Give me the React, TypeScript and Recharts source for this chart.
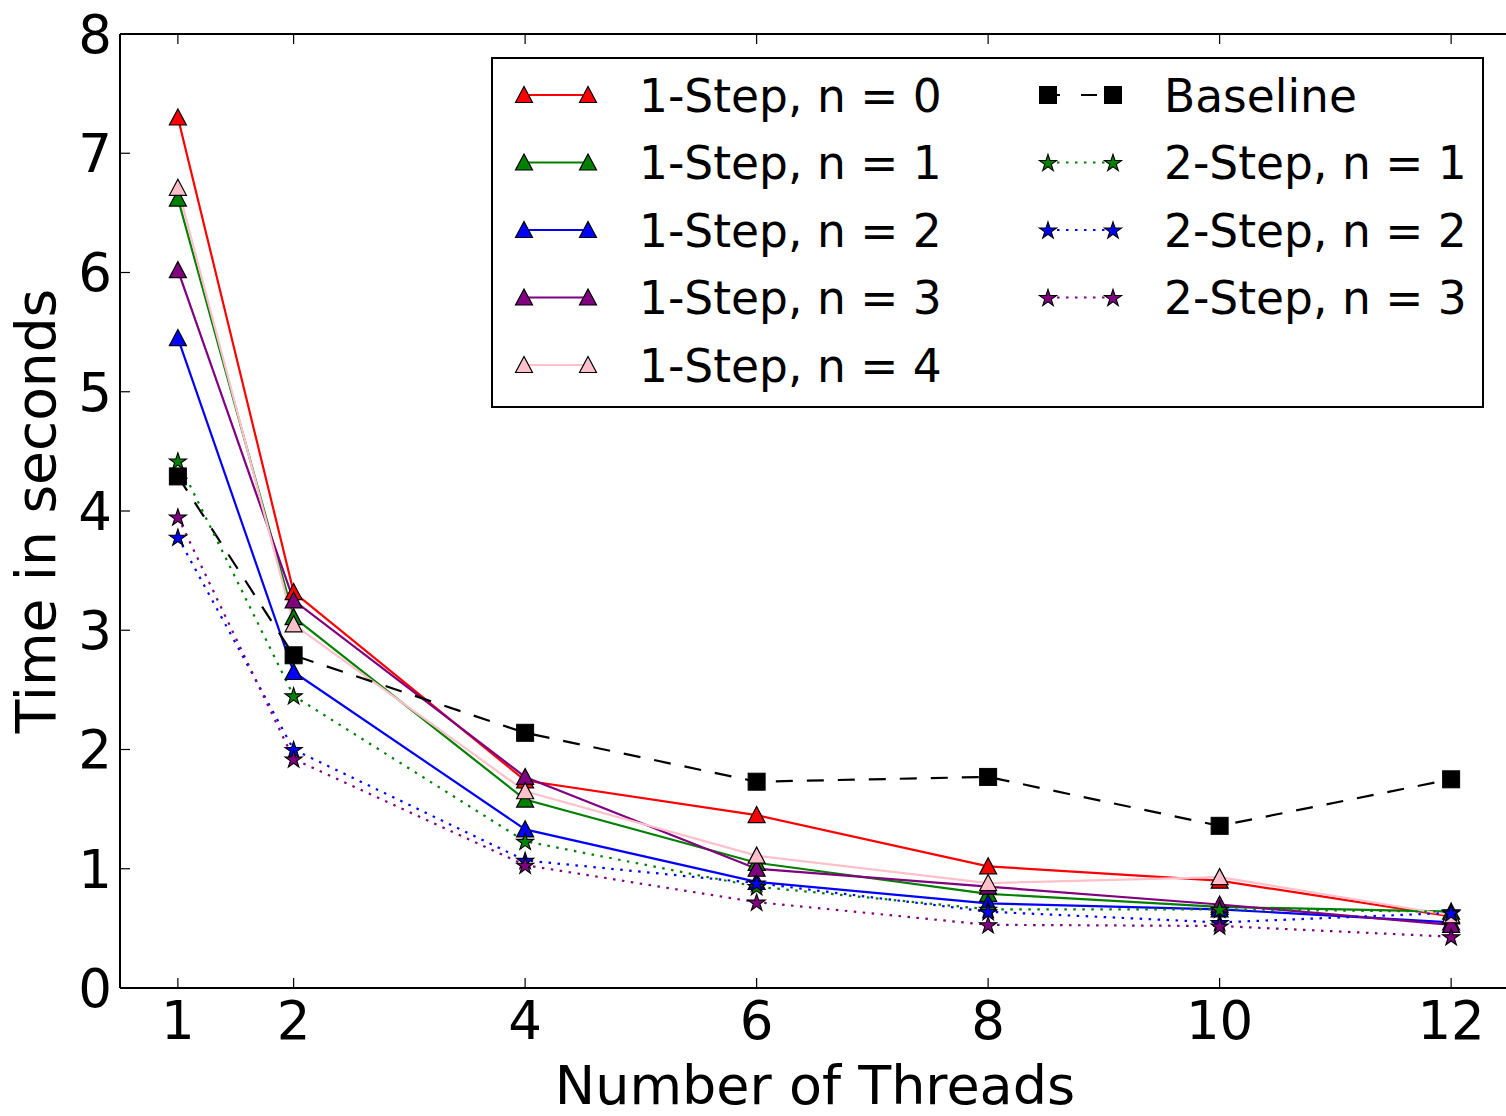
import { LineChart, Line, XAxis, YAxis, Legend } from "recharts";

// thread counts on the x axis
const threads = [1, 2, 4, 6, 8, 10, 12];

// 1-step timings (seconds)
const oneStepN0 = [7.3, 3.32, 1.74, 1.45, 1.02, 0.9, 0.6];
const oneStepN1 = [6.62, 3.11, 1.58, 1.05, 0.79, 0.68, 0.64];
const oneStepN2 = [5.45, 2.65, 1.33, 0.89, 0.71, 0.66, 0.55];
const oneStepN3 = [6.02, 3.25, 1.77, 1.0, 0.85, 0.7, 0.53];
const oneStepN4 = [6.71, 3.05, 1.65, 1.11, 0.88, 0.93, 0.61];

// baseline + 2-step timings
const baseline = [4.29, 2.79, 2.14, 1.73, 1.77, 1.36, 1.75];
const twoStepN1 = [4.42, 2.45, 1.23, 0.85, 0.66, 0.66, 0.64];
const twoStepN2 = [3.78, 2.0, 1.07, 0.88, 0.64, 0.55, 0.63];
const twoStepN3 = [3.95, 1.92, 1.03, 0.72, 0.53, 0.52, 0.43];

const xTicks = [1, 2, 4, 6, 8, 10, 12];
const yTicks = [0, 1, 2, 3, 4, 5, 6, 7, 8];

type Shape = "tri" | "square" | "star";

interface SeriesDef {
  key: string;
  name: string;
  color: string;
  shape: Shape;
  dash?: string;
  legendDash?: string;
}

const DOTTED = "2.5 6.5";

const series: SeriesDef[] = [
  { key: "s1n0", name: "1-Step, n = 0", color: "#ff0000", shape: "tri" },
  { key: "s1n1", name: "1-Step, n = 1", color: "#008000", shape: "tri" },
  { key: "s1n2", name: "1-Step, n = 2", color: "#0000ff", shape: "tri" },
  { key: "s1n3", name: "1-Step, n = 3", color: "#800080", shape: "tri" },
  { key: "s1n4", name: "1-Step, n = 4", color: "#ffc0cb", shape: "tri" },
  { key: "base", name: "Baseline", color: "#000000", shape: "square", dash: "17 14", legendDash: "12 21 16 30" },
  { key: "s2n1", name: "2-Step, n = 1", color: "#008000", shape: "star", dash: DOTTED },
  { key: "s2n2", name: "2-Step, n = 2", color: "#0000ff", shape: "star", dash: DOTTED },
  { key: "s2n3", name: "2-Step, n = 3", color: "#800080", shape: "star", dash: DOTTED },
];

const data = threads.map((t, i) => ({
  x: t,
  s1n0: oneStepN0[i],
  s1n1: oneStepN1[i],
  s1n2: oneStepN2[i],
  s1n3: oneStepN3[i],
  s1n4: oneStepN4[i],
  base: baseline[i],
  s2n1: twoStepN1[i],
  s2n2: twoStepN2[i],
  s2n3: twoStepN3[i],
}));

const FONT = "'DejaVu Sans', sans-serif";

function starPoints(cx: number, cy: number, R: number) {
  const r = R * 0.382;
  const pts: string[] = [];
  for (let k = 0; k < 10; k++) {
    const rad = k % 2 === 0 ? R : r;
    const a = -Math.PI / 2 + (k * Math.PI) / 5;
    pts.push(`${cx + rad * Math.cos(a)},${cy + rad * Math.sin(a)}`);
  }
  return pts.join(" ");
}

function Marker({ cx, cy, shape, color }: { cx: number; cy: number; shape: Shape; color: string }) {
  if (shape === "tri") {
    const h = 8.5;
    return (
      <polygon
        points={`${cx},${cy - h} ${cx - h},${cy + h - 1} ${cx + h},${cy + h - 1}`}
        fill={color}
        stroke="#000"
        strokeWidth={1.2}
        strokeLinejoin="miter"
      />
    );
  }
  if (shape === "square") {
    return <rect x={cx - 8.5} y={cy - 8.5} width={17} height={17} fill={color} stroke="#000" strokeWidth={1} />;
  }
  return <polygon points={starPoints(cx, cy + 0.8, 9)} fill={color} stroke="#000" strokeWidth={1.1} />;
}

// legend drawn in box-local coords (box top-left = 491,57 on the page)
function LegendBox() {
  const rowY = [36, 103.5, 171, 238.5, 306];
  const items = series.map((s, i) => {
    const col = i < 5 ? 0 : 1;
    const row = i < 5 ? i : i - 5;
    const x1 = col === 0 ? 31 : 555;
    const x2 = col === 0 ? 95 : 620;
    const tx = col === 0 ? 146 : 671;
    const y = rowY[row];
    return (
      <g key={s.key}>
        <line
          x1={x1}
          x2={x2}
          y1={y}
          y2={y}
          stroke={s.color}
          strokeWidth={2.2}
          strokeDasharray={s.legendDash ?? s.dash}
        />
        <Marker cx={x1} cy={y} shape={s.shape} color={s.color} />
        <Marker cx={x2} cy={y} shape={s.shape} color={s.color} />
        <text x={tx} y={y + 16.5} fontSize={45.5} fontFamily={FONT} fill="#000">
          {s.name}
        </text>
      </g>
    );
  });
  return (
    <div style={{ width: 993, height: 351, border: "2px solid #000", boxSizing: "border-box", background: "#fff" }}>
      <svg width={989} height={347} style={{ display: "block" }}>
        {items}
      </svg>
    </div>
  );
}

export default function App() {
  return (
    <div style={{ position: "absolute", left: 0, top: 0, width: 1506, height: 1116, overflow: "hidden", background: "#fff" }}>
      <LineChart width={1510} height={1116} data={data} margin={{ top: 33, right: 1, bottom: 0, left: 0 }}>
        <XAxis
          xAxisId="b"
          dataKey="x"
          type="number"
          domain={[0.5, 12.5]}
          ticks={xTicks}
          height={128}
          tickSize={-10}
          tickMargin={23}
          axisLine={{ stroke: "#000", strokeWidth: 2 }}
          tickLine={{ stroke: "#000", strokeWidth: 1.2 }}
          tick={{ fill: "#000", fontSize: 53, fontFamily: FONT }}
          label={{
            content: () => (
              <text x={815} y={1104} textAnchor="middle" fontSize={54} fontFamily={FONT} fill="#000">
                Number of Threads
              </text>
            ),
          }}
        />
        <XAxis
          xAxisId="t"
          orientation="top"
          dataKey="x"
          type="number"
          domain={[0.5, 12.5]}
          ticks={xTicks}
          height={1}
          tickSize={-10}
          tickFormatter={() => ""}
          axisLine={{ stroke: "#000", strokeWidth: 2 }}
          tickLine={{ stroke: "#000", strokeWidth: 1.2 }}
        />
        <YAxis
          yAxisId="l"
          domain={[0, 8]}
          ticks={yTicks}
          width={120}
          tickSize={-10}
          tickMargin={18}
          axisLine={{ stroke: "#000", strokeWidth: 2 }}
          tickLine={{ stroke: "#000", strokeWidth: 1.2 }}
          tick={{ fill: "#000", fontSize: 53, fontFamily: FONT }}
          label={{
            content: () => (
              <text
                x={55}
                y={511}
                transform="rotate(-90 55 511)"
                textAnchor="middle"
                fontSize={55}
                fontFamily={FONT}
                fill="#000"
              >
                Time in seconds
              </text>
            ),
          }}
        />
        <YAxis
          yAxisId="r"
          orientation="right"
          domain={[0, 8]}
          ticks={yTicks}
          width={0}
          tickSize={-10}
          tickFormatter={() => ""}
          axisLine={{ stroke: "#000", strokeWidth: 2 }}
          tickLine={{ stroke: "#000", strokeWidth: 1.2 }}
        />
        {series.map((s) => (
          <Line
            key={s.key}
            xAxisId="b"
            yAxisId="l"
            type="linear"
            dataKey={s.key}
            name={s.name}
            stroke={s.color}
            strokeWidth={2.2}
            strokeDasharray={s.dash}
            isAnimationActive={false}
            dot={(p: any) => (
              <Marker key={`${s.key}-${p.index}`} cx={p.cx} cy={p.cy} shape={s.shape} color={s.color} />
            )}
            activeDot={false}
          />
        ))}
        <Legend
          layout="horizontal"
          verticalAlign="middle"
          align="center"
          wrapperStyle={{ left: 491, top: 57, width: 993, height: 351 }}
          content={() => <LegendBox />}
        />
      </LineChart>
    </div>
  );
}
